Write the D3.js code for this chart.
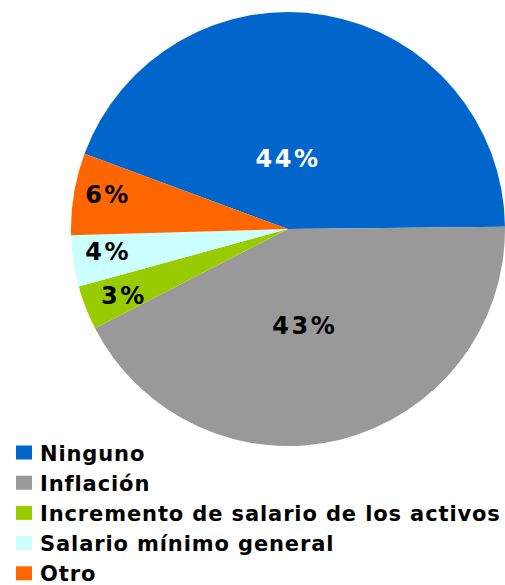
<!DOCTYPE html>
<html><head><meta charset="utf-8">
<script src="https://cdn.jsdelivr.net/npm/d3@7"></script>
<style>body{margin:0;background:#fff}svg{display:block}</style>
</head><body>
<svg id="c" width="505" height="585"></svg>
<script>
const categories = ["Ninguno","Inflación","Incremento de salario de los activos","Salario mínimo general","Otro"];
const values = [44.2, 42.6, 3.3, 3.8, 6.1];
const colors = ["#0066CC","#999999","#99CC00","#CCFFFF","#FF6600"];
const labelColors = ["#ffffff","#000000","#000000","#000000","#000000"];

const svg = d3.select("#c");
const cx = 288, cy = 229, r = 217;
const start = 290.3 * Math.PI / 180;
const pie = d3.pie().sort(null).value(d => d.v).startAngle(start).endAngle(start + 2*Math.PI);
const data = categories.map((c,i) => ({c, v: values[i], i}));
const arcs = pie(data);
const arc = d3.arc().innerRadius(0).outerRadius(r);
const g = svg.append("g").attr("transform", `translate(${cx},${cy})`);
g.selectAll("path").data(arcs).join("path")
  .attr("d", arc).attr("fill", d => colors[d.data.i]);

const total = d3.sum(values);
const fmt = d => Math.round(d.data.v / total * 100) + "%";
// label placement: radius fraction and angular nudge (degrees)
const labelR = [0.327, 0.45, 0.816, 0.835, 0.845];
const labelNudge = [-9.85, 4, -0.85, 1.55, 1.7];
g.selectAll("text").data(arcs).join("text")
  .attr("transform", d => {
    const a = (d.startAngle + d.endAngle)/2 + labelNudge[d.data.i]*Math.PI/180, rr = r*labelR[d.data.i];
    return `translate(${Math.sin(a)*rr},${-Math.cos(a)*rr})`;
  })
  .attr("text-anchor","middle").attr("dy","0.36em")
  .attr("font-family","DejaVu Sans, Verdana, sans-serif").attr("font-weight","bold")
  .attr("font-size", 24).attr("letter-spacing", 2.5)
  .attr("fill", d => labelColors[d.data.i])
  .text(fmt);

const leg = svg.append("g").attr("transform","translate(16,460.5)");
const rows = leg.selectAll("g").data(categories).join("g")
  .attr("transform", (d,i) => `translate(0,${i*30.2})`);
rows.append("rect").attr("x",0).attr("y",-15).attr("width",16).attr("height",14)
  .attr("fill",(d,i)=>colors[i]);
rows.append("text").attr("x",24).attr("y",0)
  .attr("font-family","DejaVu Sans, Verdana, sans-serif").attr("font-weight","bold")
  .attr("font-size",21).attr("letter-spacing",0.88)
  .text(d=>d);
</script>
</body></html>
